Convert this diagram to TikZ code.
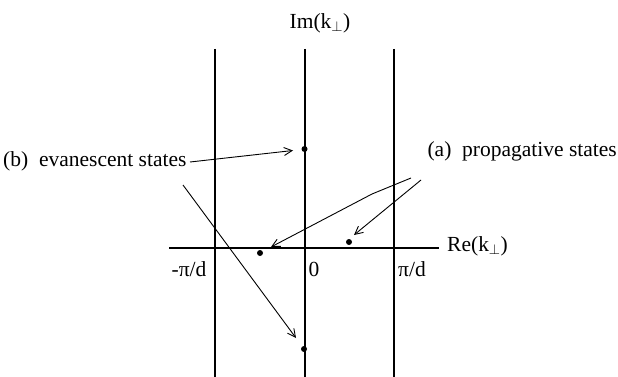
\documentclass[tikz,border=0pt]{standalone}
\usepackage{fontspec}
\setmainfont{Liberation Serif}
\usetikzlibrary{arrows.meta}
\begin{document}
\begin{tikzpicture}[x=1pt,y=-1pt,
  axis/.style={line width=1.2pt},
  ptr/.style={line width=0.9pt,-{Straight Barb[length=8pt,width=8pt]}},
  lbl/.style={font=\fontsize{21.5}{24}\selectfont,inner sep=0pt},
  dotn/.style={circle,fill,inner sep=0pt,minimum size=6pt}]
\useasboundingbox (0,0) rectangle (618,377);
% axes
\coordinate (lt) at (215,49); \coordinate (lb) at (215,377);
\coordinate (ct) at (305,49); \coordinate (cb) at (305,377);
\coordinate (rt) at (394,49); \coordinate (rb) at (394,377);
\coordinate (hl) at (169,248); \coordinate (hr) at (439,248);
\draw[axis] (lt) -- (lb);
\draw[axis] (ct) -- (cb);
\draw[axis] (rt) -- (rb);
\draw[axis] (hl) -- (hr);
% labels
\node[lbl] (im) at (320,23) {Im(k$_{\perp}$)};
\node[lbl,anchor=west] (re) at (447,246) {Re(k$_{\perp}$)};
\node[lbl] (mpi) at (189,269) {-π/d};
\node[lbl] (zero) at (314,269) {0};
\node[lbl] (pi) at (412,269) {π/d};
\node[lbl,anchor=west] (eva) at (3,161) {(b)\ \ evanescent states};
\node[lbl,anchor=east] (prop) at (617,151) {(a)\ \ propagative states};
% states
\node[dotn] (d1) at (304.5,149) {};
\node[dotn] (d2) at (304,349) {};
\node[dotn] (d3) at (260,253) {};
\node[dotn] (d4) at (349,242) {};
% arrow end points
\coordinate (s1) at (190,162);
\coordinate (s2) at (183,185);
\coordinate (s3) at (411,178);
\coordinate (s4) at (421,180);
\coordinate (e1) at (293,150.5);
\coordinate (e2) at (296,338);
\coordinate (e3) at (271,247);
\coordinate (e4) at (354,235);
\draw[ptr] (s1) -- (e1);
\draw[ptr] (s2) -- (e2);
\draw[ptr] (s3) -- (372,194) -- (e3);
\draw[ptr] (s4) -- (e4);
\end{tikzpicture}
\end{document}
